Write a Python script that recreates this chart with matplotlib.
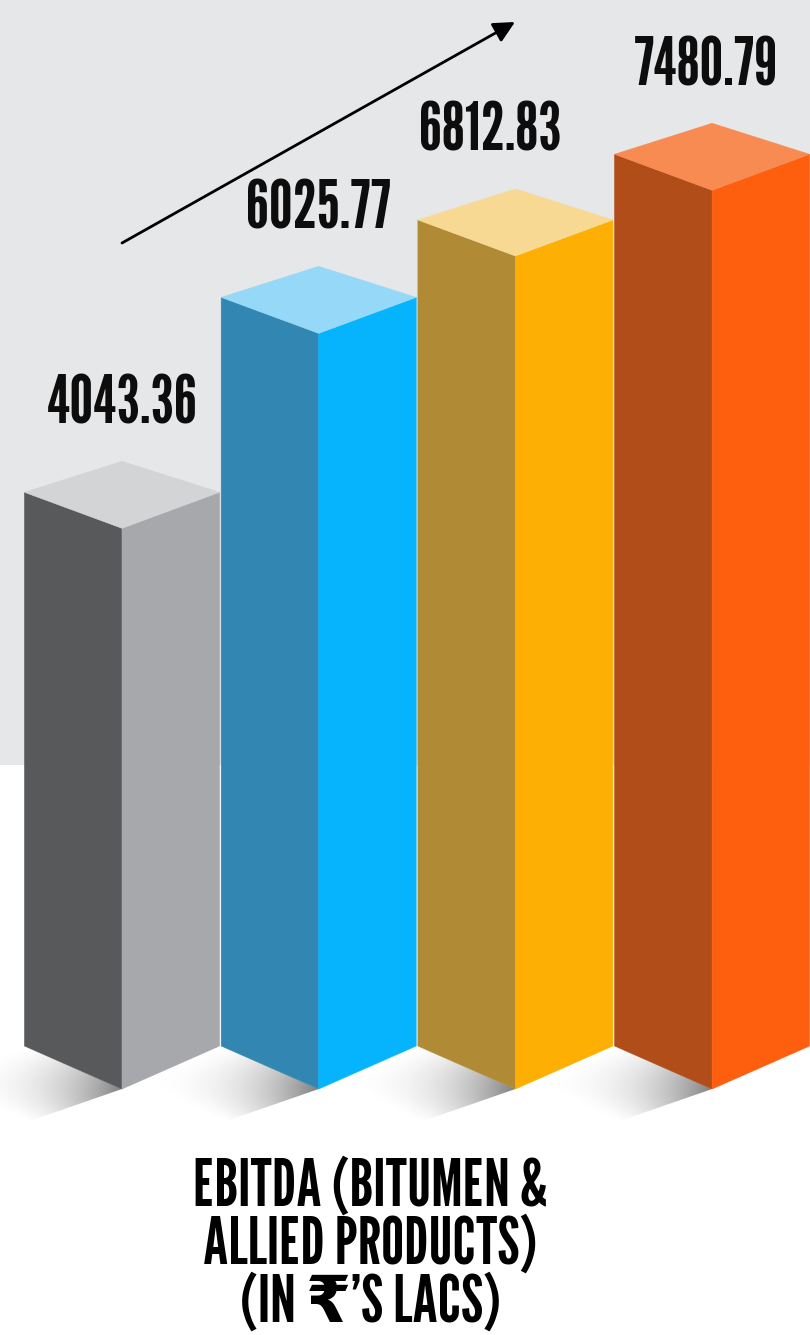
import numpy as np
import matplotlib
matplotlib.use("Agg")
import matplotlib.pyplot as plt
from matplotlib.patches import Polygon, Rectangle

# EBITDA figures (Rs. lacs), one bar per year
values = [4043.36, 6025.77, 6812.83, 7480.79]
value_labels = ["4043.36", "6025.77", "6812.83", "7480.79"]
title_lines = ["EBITDA (BITUMEN &", "ALLIED PRODUCTS)", "(IN \u20b9\u2019S LACS)"]

# face colours of each block: shaded left side, lit right side, top
left_colors = ["#58595b", "#3287b2", "#b08a34", "#b04d18"]
right_colors = ["#a7a8ab", "#06b4fe", "#fdb003", "#fe5f0f"]
top_colors = ["#d3d4d6", "#96d8f7", "#f7d993", "#f88b52"]

FONT = ["League Gothic", "DejaVu Sans"]

W, H = 810, 1335
PX_X = 196.7      # pixels per category slot
PX_Y = 0.09833    # pixels per value unit
FLOOR = -1659.0   # value level of the blocks' front-bottom corner


def dx(px):
    return px / PX_X


def dy(px):
    return px / PX_Y


fig = plt.figure(figsize=(W / 100, H / 100), dpi=100)
fig.patch.set_facecolor("white")
ax = fig.add_axes([0, 0, 1, 1])
ax.axis("off")

# light grey backdrop over the upper part
ax.add_patch(Rectangle((0, (H - 765) / H), 1, 1, transform=ax.transAxes,
                       facecolor="#e6e7e9", edgecolor="none", zorder=0))

half = dx(97.5)
for i, v in enumerate(values):
    xf, xl, xr = i, i - half, i + half
    yb_front, yb_side = FLOOR, FLOOR + dy(43)
    yt_front = v
    yt_side = v + dy(36)
    yt_back = yt_side + dy(31)

    # soft floor shadow cast to the lower left of the block
    A = np.array([xf, yb_front])
    B = np.array([xl, yb_side])
    off = np.array([-dx(95), -dy(33)])
    poly = np.array([B, A, A + off, B + off])
    xmin, xmax = poly[:, 0].min(), poly[:, 0].max()
    ymin, ymax = poly[:, 1].min(), poly[:, 1].max()
    gx, gy = np.meshgrid(np.linspace(xmin, xmax, 240), np.linspace(ymin, ymax, 160))
    u = A - B
    det = u[0] * off[1] - u[1] * off[0]
    px_, py_ = gx - B[0], gy - B[1]
    s = (px_ * off[1] - py_ * off[0]) / det
    t = (u[0] * py_ - u[1] * px_) / det
    s = np.clip(s, 0, 1)
    t = np.clip(t, 0, 1)
    alpha = 0.5 * s ** 1.5 * (1 - t) ** 1.3
    rgba = np.zeros(gx.shape + (4,))
    rgba[..., 3] = alpha
    im = ax.imshow(rgba, extent=(xmin, xmax, ymin, ymax), origin="lower",
                   aspect="auto", interpolation="bilinear", zorder=1)
    clip = Polygon(poly, closed=True, transform=ax.transData,
                   facecolor="none", edgecolor="none")
    ax.add_patch(clip)
    im.set_clip_path(clip)

    left = [(xl, yb_side), (xf, yb_front), (xf, yt_front), (xl, yt_side)]
    right = [(xf, yb_front), (xr, yb_side), (xr, yt_side), (xf, yt_front)]
    top = [(xl, yt_side), (xf, yt_front), (xr, yt_side), (xf, yt_back)]
    for pts, c in ((left, left_colors[i]), (right, right_colors[i]), (top, top_colors[i])):
        ax.add_patch(Polygon(pts, closed=True, facecolor=c, edgecolor=c,
                             linewidth=0.4, zorder=2))

# value labels above each block
label_shift_px = [0, 0, -25, -6]
for i, v in enumerate(values):
    ax.text(i + dx(label_shift_px[i]), v + dy(36 + 31 + 38), value_labels[i],
            ha="center", va="baseline", fontsize=48, fontweight="bold",
            family=FONT, color="#0d0d0d", zorder=3)

# rising trend arrow
ax.annotate("", xy=(515 / W, 1 - 22 / H), xytext=(122 / W, 1 - 243 / H),
            xycoords="axes fraction", textcoords="axes fraction",
            arrowprops=dict(arrowstyle="-|>", lw=2, color="black",
                            mutation_scale=32, shrinkA=0, shrinkB=0),
            zorder=3)

# caption
for k, line in enumerate(title_lines):
    fig.text(370 / W, 1 - (1206 + 58 * k) / H, line, ha="center", va="baseline",
             fontsize=47, fontweight="bold", family=FONT, color="black")

ax.set_xlim(-122 / PX_X, (W - 122) / PX_X)
ax.set_ylim(FLOOR - dy(H - 1089), FLOOR + dy(1089))

fig.savefig("out.png", dpi=100, facecolor="white")
